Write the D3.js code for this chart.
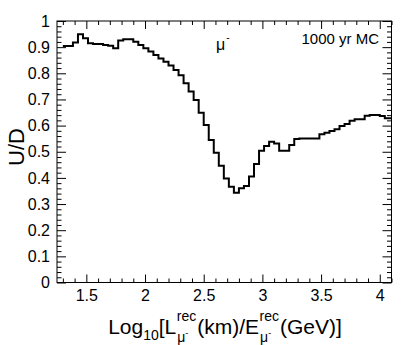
<!DOCTYPE html>
<html>
<head>
<meta charset="utf-8">
<script src="https://cdn.jsdelivr.net/npm/d3@7"></script>
<style>
  html, body { margin: 0; padding: 0; background: #fff; }
  svg { display: block; }
  text { font-family: "Liberation Sans", Arial, Helvetica, sans-serif; fill: #000; }
</style>
</head>
<body>
<svg id="chart" width="407" height="345"></svg>
<script>
// ---------------- data ----------------
const binStart = 1.3;          // lower edge of first bin
const binWidth = 3 / 70;       // bin width in Log10(L/E)
const ratioValues = [
  0.904, 0.904, 0.918, 0.949, 0.934, 0.915, 0.912, 0.912, 0.908, 0.905,
  0.896, 0.925, 0.930, 0.930, 0.921, 0.908, 0.896, 0.883, 0.870, 0.857,
  0.844, 0.830, 0.813, 0.793, 0.762, 0.730, 0.698, 0.649, 0.602, 0.545,
  0.496, 0.446, 0.398, 0.366, 0.343, 0.360, 0.369, 0.405, 0.453, 0.504,
  0.522, 0.538, 0.532, 0.504, 0.504, 0.526, 0.549, 0.551, 0.551, 0.551,
  0.551, 0.567, 0.573, 0.579, 0.586, 0.598, 0.606, 0.619, 0.624, 0.624,
  0.638, 0.641, 0.641, 0.637, 0.628, 0.628
];
const xTickValues = [1.5, 2, 2.5, 3, 3.5, 4];
const xTickLabels = ["1.5", "2", "2.5", "3", "3.5", "4"];
const xMinorValues = [1.3, 1.4, 1.6, 1.7, 1.8, 1.9, 2.1, 2.2, 2.3, 2.4, 2.6, 2.7, 2.8, 2.9,
                      3.1, 3.2, 3.3, 3.4, 3.6, 3.7, 3.8, 3.9, 4.1];
const yTickValues = [0, 0.1, 0.2, 0.3, 0.4, 0.5, 0.6, 0.7, 0.8, 0.9, 1];
const yTickLabels = ["0", "0.1", "0.2", "0.3", "0.4", "0.5", "0.6", "0.7", "0.8", "0.9", "1"];
const yMinorValues = [];
for (let i = 0; i <= 50; i++) if (i % 5 !== 0) yMinorValues.push(i / 50);
const xDomain = [1.25, 4.1];
const yDomain = [0, 1];

// ---------------- layout ----------------
const L = 57, R = 391.5, T = 21, B = 282.5;
const svg = d3.select("#chart");
const x = d3.scaleLinear().domain(xDomain).range([L, R]);
const y = d3.scaleLinear().domain(yDomain).range([B, T]);

// clip
svg.append("defs").append("clipPath").attr("id", "clip")
  .append("rect").attr("x", L).attr("y", T).attr("width", R - L).attr("height", B - T);

// histogram
const pts = ratioValues.map((v, i) => [binStart + i * binWidth, v]);
pts.push([binStart + ratioValues.length * binWidth, ratioValues[ratioValues.length - 1]]);
const line = d3.line().x(d => x(d[0])).y(d => y(d[1])).curve(d3.curveStepAfter);
svg.append("path").attr("d", line(pts)).attr("clip-path", "url(#clip)")
  .attr("fill", "none").attr("stroke", "#000").attr("stroke-width", 2)
  .attr("stroke-linejoin", "miter");

// axes
function styleAxis(g) {
  g.select(".domain").remove();
  g.selectAll(".tick line").attr("stroke", "#000").attr("stroke-width", 1);
  g.selectAll(".tick text").attr("font-size", 16).attr("fill", "#000")
    .attr("font-family", "'Liberation Sans', Arial, sans-serif");
}
const xMajor = 8, xMinor = 4, yMajor = 9, yMinor = 4.5;
// bottom
svg.append("g").attr("transform", `translate(0,${B})`)
  .call(d3.axisBottom(x).tickValues(xTickValues).tickSize(-xMajor).tickPadding(7)
    .tickFormat((d, i) => xTickLabels[i])).call(styleAxis);
svg.append("g").attr("transform", `translate(0,${B})`)
  .call(d3.axisBottom(x).tickValues(xMinorValues).tickSize(-xMinor).tickFormat("")).call(styleAxis);
// top
svg.append("g").attr("transform", `translate(0,${T})`)
  .call(d3.axisTop(x).tickValues(xTickValues).tickSize(-xMajor).tickFormat("")).call(styleAxis);
svg.append("g").attr("transform", `translate(0,${T})`)
  .call(d3.axisTop(x).tickValues(xMinorValues).tickSize(-xMinor).tickFormat("")).call(styleAxis);
// left
svg.append("g").attr("transform", `translate(${L},0)`)
  .call(d3.axisLeft(y).tickValues(yTickValues).tickSize(-yMajor).tickPadding(7)
    .tickFormat((d, i) => yTickLabels[i])).call(styleAxis);
svg.append("g").attr("transform", `translate(${L},0)`)
  .call(d3.axisLeft(y).tickValues(yMinorValues).tickSize(-yMinor).tickFormat("")).call(styleAxis);
// right
svg.append("g").attr("transform", `translate(${R},0)`)
  .call(d3.axisRight(y).tickValues(yTickValues).tickSize(-yMajor).tickFormat("")).call(styleAxis);
svg.append("g").attr("transform", `translate(${R},0)`)
  .call(d3.axisRight(y).tickValues(yMinorValues).tickSize(-yMinor).tickFormat("")).call(styleAxis);

// frame
svg.append("rect").attr("x", L).attr("y", T).attr("width", R - L).attr("height", B - T)
  .attr("fill", "none").attr("stroke", "#000").attr("stroke-width", 1);

// y title
svg.append("text").attr("transform", `translate(24,147) rotate(-90)`)
  .attr("text-anchor", "middle").attr("font-size", 22).text("U/D");

// in-plot labels
const mu = svg.append("text").attr("x", 216).attr("y", 50).attr("font-size", 16);
mu.append("tspan").text("μ");
mu.append("tspan").attr("font-size", 10).attr("dy", -9).attr("dx", 1).text("-");
svg.append("text").attr("x", 379).attr("y", 44).attr("text-anchor", "end")
  .attr("font-size", 15).text("1000 yr MC");

// x title built from pieces
const base = 334;
const tg = svg.append("g");
let cx = 0;
function piece(str, size, dy) {
  const t = tg.append("text").attr("x", cx).attr("y", base + dy).attr("font-size", size).text(str);
  const w = t.node().getComputedTextLength();
  cx += w;
  return w;
}
function stack() {
  const start = cx;
  const t1 = tg.append("text").attr("x", start + 0.5).attr("y", base - 13).attr("font-size", 14).text("rec");
  const w1 = t1.node().getComputedTextLength();
  const t2 = tg.append("text").attr("x", start + 1).attr("y", base + 8).attr("font-size", 14);
  t2.append("tspan").text("μ");
  t2.append("tspan").attr("font-size", 9).attr("dy", -6).text("-");
  const w2 = t2.node().getComputedTextLength();
  cx = start + Math.max(w1, w2) + 1.5;
}
piece("Log", 21, 0);
piece("10", 14, 6);
piece("[L", 21, 0);
stack();
piece("(km)/E", 21, 0);
stack();
piece("(GeV)]", 21, 0);
tg.attr("transform", `translate(${225 - cx / 2},0)`);
</script>
</body>
</html>
